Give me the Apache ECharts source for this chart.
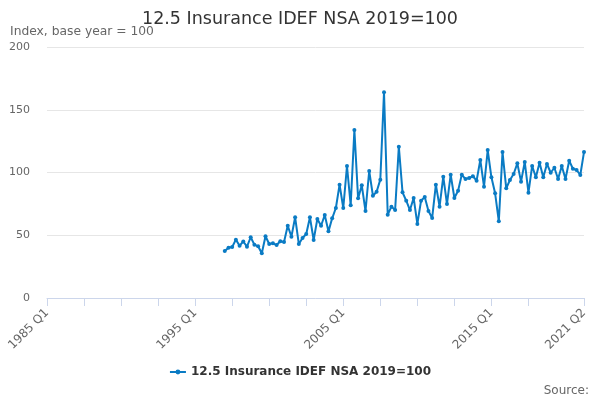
<!DOCTYPE html>
<html>
<head>
<meta charset="utf-8">
<script src="https://cdn.jsdelivr.net/npm/echarts@6/dist/echarts.min.js"></script>
<style>
  html, body { margin: 0; padding: 0; background: #fff; }
  #main { width: 600px; height: 400px; }
</style>
</head>
<body>
<div id="main"></div>
<script>
var seriesName = '12.5 Insurance IDEF NSA 2019=100';
var firstYear = 1985;
var lastYear = 2021;
var lastQuarter = 2;
// series starts at 1997 Q1
var startLabel = '1997 Q1';
var values = [
  37.5, 40, 40.6, 46.5, 41.7, 45, 40.9, 48.4, 42.5, 41.2, 35.6, 49.2,
  43, 43.6, 42.2, 45.2, 44.6, 57.6, 48.9, 64.3, 43, 47.8, 51, 64.3,
  46.2, 63, 57.6, 66.1, 53.1, 63.5, 71.7, 90.3, 71.7, 105.2, 73.9, 133.9,
  79.4, 89.8, 69.3, 101.2, 81.5, 84.7, 94.3, 163.9,
  66.4, 72.8, 70.1, 120.6, 84.2, 77.5, 70.1, 79.7, 59, 77.5, 80.5, 69.3,
  63.8, 90.3, 72.8, 96.7, 74.9, 98.3, 79.7, 85.5, 98.3, 94.8, 95.6, 97,
  93.5, 110, 88.7, 117.9, 96.2, 83.4, 61.1, 116.3, 87.4, 94, 98.8, 107.3,
  92.7, 108.4, 83.9, 105.2, 96.2, 107.8, 96.2, 106.8, 99.8, 103.8, 94.8, 105.2,
  94.8, 109.4, 103, 102, 98, 116.3
];
var yTicks = [0, 50, 100, 150, 200];

var categories = [];
for (var y = firstYear; y <= lastYear; y++) {
  for (var q = 1; q <= 4; q++) {
    if (y === lastYear && q > lastQuarter) break;
    categories.push(y + ' Q' + q);
  }
}
var lastIdx = categories.length - 1;
var startIdx = categories.indexOf(startLabel);
var data = categories.map(function (c, i) {
  return i < startIdx ? null : values[i - startIdx];
});

var chart = echarts.init(document.getElementById('main'));
var option = {
  animation: false,
  textStyle: { fontFamily: 'DejaVu Sans' },
  title: [
    {
      text: seriesName,
      left: 'center',
      top: 5,
      textStyle: { fontSize: 17.5, fontWeight: 'normal', color: '#333' }
    },
    {
      text: 'Index, base year = 100',
      left: 5,
      top: 21,
      textStyle: { fontSize: 12.3, fontWeight: 'normal', color: '#666' }
    },
    {
      text: 'Source:',
      right: 11,
      bottom: 3,
      padding: 0,
      textStyle: { fontSize: 12, fontWeight: 'normal', color: '#666' }
    }
  ],
  legend: {
    bottom: 17,
    left: 'center',
    itemWidth: 16,
    itemHeight: 6,
    textStyle: { fontSize: 12, fontWeight: 'bold', color: '#333' },
    data: [seriesName]
  },
  grid: { left: 47, right: 16, top: 47, bottom: 102 },
  xAxis: {
    type: 'category',
    data: categories,
    boundaryGap: false,
    axisLine: { lineStyle: { color: '#ccd6eb' } },
    axisTick: {
      length: 8,
      lineStyle: { color: '#ccd6eb' },
      interval: function (i) { return (i % 10 === 0 && i < 140) || i === lastIdx; }
    },
    axisLabel: {
      rotate: 45,
      color: '#666',
      fontSize: 12,
      margin: 13,
      interval: function (i) { return i % 40 === 0 || i === lastIdx; }
    },
    splitLine: { show: false }
  },
  yAxis: {
    type: 'value',
    min: yTicks[0],
    max: yTicks[yTicks.length - 1],
    interval: 50,
    axisLine: { show: false },
    axisTick: { show: false },
    axisLabel: { color: '#666', fontSize: 11, margin: 17 },
    splitLine: { lineStyle: { color: '#e6e6e6' } }
  },
  series: [
    {
      name: seriesName,
      type: 'line',
      data: data,
      color: '#0a7bc4',
      lineStyle: { width: 2 },
      symbol: 'circle',
      symbolSize: 4,
      showAllSymbol: true,
      connectNulls: false
    }
  ]
};
chart.setOption(option);
</script>
</body>
</html>
